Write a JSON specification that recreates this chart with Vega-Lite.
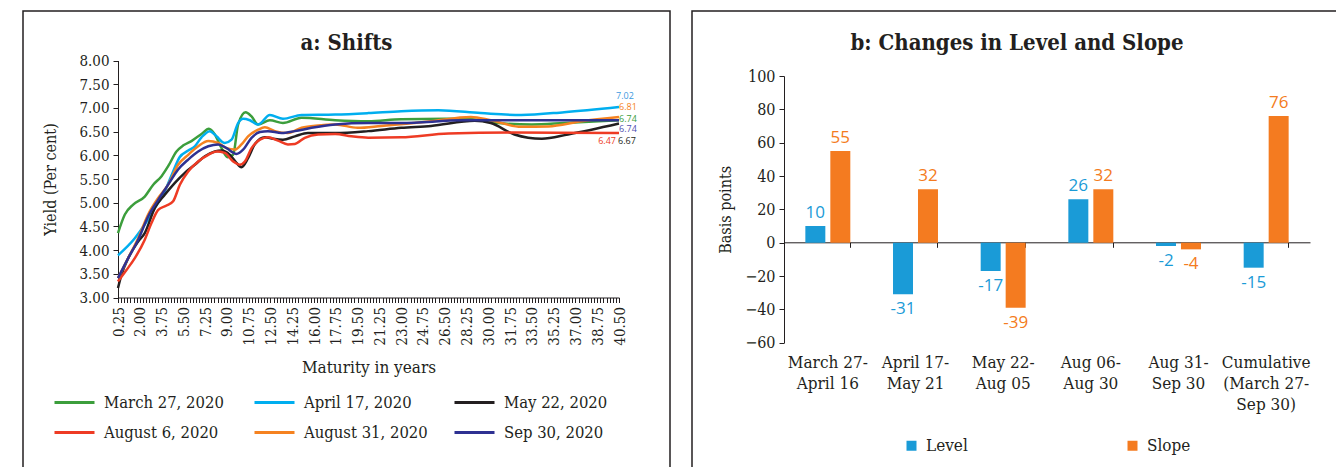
{
  "$schema": "https://vega.github.io/schema/vega-lite/v6.json",
  "padding": {"left": 22, "top": 10, "right": 0, "bottom": 0},
  "spacing": 20,
  "config": {
    "view": {"stroke": "#231f20", "strokeWidth": 1.5},
    "font": "DejaVu Serif Condensed",
    "axis": {"labelColor": "#231f20", "titleColor": "#231f20", "domainColor": "#231f20", "tickColor": "#231f20", "grid": false, "titleFontWeight": "normal", "labelFont": "DejaVu Serif Condensed", "titleFont": "DejaVu Serif Condensed"},
    "legend": {"labelFont": "DejaVu Serif Condensed", "labelColor": "#231f20"},
    "title": {"font": "DejaVu Serif Condensed", "fontWeight": "bold", "color": "#231f20", "fontSize": 22}
  },
  "resolve": {"scale": {"color": "independent"}, "legend": {"color": "independent"}},
  "datasets": {
    "curves": [
      {"s": "March 27, 2020", "m": 0.25, "y": 4.36}, {"s": "March 27, 2020", "m": 0.8, "y": 4.75}, {"s": "March 27, 2020", "m": 1.47, "y": 4.96}, {"s": "March 27, 2020", "m": 2.4, "y": 5.13}, {"s": "March 27, 2020", "m": 3.08, "y": 5.38}, {"s": "March 27, 2020", "m": 3.75, "y": 5.56}, {"s": "March 27, 2020", "m": 4.28, "y": 5.77}, {"s": "March 27, 2020", "m": 4.95, "y": 6.08}, {"s": "March 27, 2020", "m": 5.5, "y": 6.21}, {"s": "March 27, 2020", "m": 6.15, "y": 6.3}, {"s": "March 27, 2020", "m": 6.96, "y": 6.45}, {"s": "March 27, 2020", "m": 7.55, "y": 6.56}, {"s": "March 27, 2020", "m": 8.03, "y": 6.44}, {"s": "March 27, 2020", "m": 8.57, "y": 6.15}, {"s": "March 27, 2020", "m": 9.05, "y": 5.96}, {"s": "March 27, 2020", "m": 9.5, "y": 6.01}, {"s": "March 27, 2020", "m": 9.9, "y": 6.65}, {"s": "March 27, 2020", "m": 10.5, "y": 6.91}, {"s": "March 27, 2020", "m": 10.98, "y": 6.82}, {"s": "March 27, 2020", "m": 11.5, "y": 6.65}, {"s": "March 27, 2020", "m": 12.45, "y": 6.74}, {"s": "March 27, 2020", "m": 13.5, "y": 6.68}, {"s": "March 27, 2020", "m": 15, "y": 6.79}, {"s": "March 27, 2020", "m": 17.7, "y": 6.74}, {"s": "March 27, 2020", "m": 20.35, "y": 6.72}, {"s": "March 27, 2020", "m": 23, "y": 6.76}, {"s": "March 27, 2020", "m": 28.1, "y": 6.77}, {"s": "March 27, 2020", "m": 30.8, "y": 6.68}, {"s": "March 27, 2020", "m": 33.5, "y": 6.65}, {"s": "March 27, 2020", "m": 36.1, "y": 6.68}, {"s": "March 27, 2020", "m": 40.5, "y": 6.74},
      {"s": "April 17, 2020", "m": 0.25, "y": 3.89}, {"s": "April 17, 2020", "m": 1.6, "y": 4.25}, {"s": "April 17, 2020", "m": 2.4, "y": 4.54}, {"s": "April 17, 2020", "m": 3.21, "y": 4.89}, {"s": "April 17, 2020", "m": 4.01, "y": 5.24}, {"s": "April 17, 2020", "m": 4.68, "y": 5.66}, {"s": "April 17, 2020", "m": 5.2, "y": 5.96}, {"s": "April 17, 2020", "m": 5.89, "y": 6.1}, {"s": "April 17, 2020", "m": 6.42, "y": 6.19}, {"s": "April 17, 2020", "m": 6.96, "y": 6.38}, {"s": "April 17, 2020", "m": 7.63, "y": 6.51}, {"s": "April 17, 2020", "m": 8.16, "y": 6.4}, {"s": "April 17, 2020", "m": 8.83, "y": 6.26}, {"s": "April 17, 2020", "m": 9.37, "y": 6.33}, {"s": "April 17, 2020", "m": 9.9, "y": 6.68}, {"s": "April 17, 2020", "m": 10.3, "y": 6.77}, {"s": "April 17, 2020", "m": 10.84, "y": 6.74}, {"s": "April 17, 2020", "m": 11.5, "y": 6.65}, {"s": "April 17, 2020", "m": 12.45, "y": 6.85}, {"s": "April 17, 2020", "m": 13.5, "y": 6.77}, {"s": "April 17, 2020", "m": 15, "y": 6.85}, {"s": "April 17, 2020", "m": 17.7, "y": 6.86}, {"s": "April 17, 2020", "m": 20.35, "y": 6.89}, {"s": "April 17, 2020", "m": 23, "y": 6.93}, {"s": "April 17, 2020", "m": 26, "y": 6.95}, {"s": "April 17, 2020", "m": 29.4, "y": 6.89}, {"s": "April 17, 2020", "m": 32.65, "y": 6.85}, {"s": "April 17, 2020", "m": 36.1, "y": 6.91}, {"s": "April 17, 2020", "m": 40.5, "y": 7.02},
      {"s": "May 22, 2020", "m": 0.25, "y": 3.2}, {"s": "May 22, 2020", "m": 0.53, "y": 3.48}, {"s": "May 22, 2020", "m": 1.07, "y": 3.83}, {"s": "May 22, 2020", "m": 1.87, "y": 4.18}, {"s": "May 22, 2020", "m": 2.4, "y": 4.36}, {"s": "May 22, 2020", "m": 3.21, "y": 4.89}, {"s": "May 22, 2020", "m": 4.01, "y": 5.17}, {"s": "May 22, 2020", "m": 4.82, "y": 5.42}, {"s": "May 22, 2020", "m": 5.62, "y": 5.63}, {"s": "May 22, 2020", "m": 6.42, "y": 5.8}, {"s": "May 22, 2020", "m": 7.23, "y": 5.98}, {"s": "May 22, 2020", "m": 8.03, "y": 6.08}, {"s": "May 22, 2020", "m": 8.57, "y": 6.1}, {"s": "May 22, 2020", "m": 9.24, "y": 6.01}, {"s": "May 22, 2020", "m": 9.77, "y": 5.84}, {"s": "May 22, 2020", "m": 10.17, "y": 5.75}, {"s": "May 22, 2020", "m": 10.7, "y": 5.94}, {"s": "May 22, 2020", "m": 11.24, "y": 6.23}, {"s": "May 22, 2020", "m": 12.05, "y": 6.38}, {"s": "May 22, 2020", "m": 12.7, "y": 6.35}, {"s": "May 22, 2020", "m": 13.5, "y": 6.33}, {"s": "May 22, 2020", "m": 14.46, "y": 6.4}, {"s": "May 22, 2020", "m": 15.5, "y": 6.47}, {"s": "May 22, 2020", "m": 17.7, "y": 6.47}, {"s": "May 22, 2020", "m": 20.35, "y": 6.51}, {"s": "May 22, 2020", "m": 23, "y": 6.58}, {"s": "May 22, 2020", "m": 25.4, "y": 6.62}, {"s": "May 22, 2020", "m": 28.9, "y": 6.73}, {"s": "May 22, 2020", "m": 30.2, "y": 6.68}, {"s": "May 22, 2020", "m": 32.1, "y": 6.44}, {"s": "May 22, 2020", "m": 34.3, "y": 6.35}, {"s": "May 22, 2020", "m": 36.4, "y": 6.44}, {"s": "May 22, 2020", "m": 40.5, "y": 6.67},
      {"s": "August 6, 2020", "m": 0.25, "y": 3.34}, {"s": "August 6, 2020", "m": 0.93, "y": 3.58}, {"s": "August 6, 2020", "m": 1.6, "y": 3.83}, {"s": "August 6, 2020", "m": 2.4, "y": 4.22}, {"s": "August 6, 2020", "m": 2.94, "y": 4.57}, {"s": "August 6, 2020", "m": 3.48, "y": 4.85}, {"s": "August 6, 2020", "m": 4.15, "y": 4.94}, {"s": "August 6, 2020", "m": 4.68, "y": 5.03}, {"s": "August 6, 2020", "m": 5.22, "y": 5.38}, {"s": "August 6, 2020", "m": 5.89, "y": 5.66}, {"s": "August 6, 2020", "m": 6.69, "y": 5.87}, {"s": "August 6, 2020", "m": 7.5, "y": 6.01}, {"s": "August 6, 2020", "m": 8.16, "y": 6.08}, {"s": "August 6, 2020", "m": 8.83, "y": 6.05}, {"s": "August 6, 2020", "m": 9.5, "y": 5.87}, {"s": "August 6, 2020", "m": 10.04, "y": 5.8}, {"s": "August 6, 2020", "m": 10.44, "y": 5.87}, {"s": "August 6, 2020", "m": 10.98, "y": 6.15}, {"s": "August 6, 2020", "m": 11.65, "y": 6.33}, {"s": "August 6, 2020", "m": 12.3, "y": 6.38}, {"s": "August 6, 2020", "m": 13.1, "y": 6.31}, {"s": "August 6, 2020", "m": 13.9, "y": 6.23}, {"s": "August 6, 2020", "m": 14.46, "y": 6.24}, {"s": "August 6, 2020", "m": 15.26, "y": 6.37}, {"s": "August 6, 2020", "m": 16.33, "y": 6.44}, {"s": "August 6, 2020", "m": 17.7, "y": 6.45}, {"s": "August 6, 2020", "m": 19, "y": 6.4}, {"s": "August 6, 2020", "m": 20.35, "y": 6.37}, {"s": "August 6, 2020", "m": 23, "y": 6.38}, {"s": "August 6, 2020", "m": 26.8, "y": 6.46}, {"s": "August 6, 2020", "m": 32.1, "y": 6.48}, {"s": "August 6, 2020", "m": 40.5, "y": 6.47},
      {"s": "August 31, 2020", "m": 0.25, "y": 3.41}, {"s": "August 31, 2020", "m": 1.07, "y": 3.83}, {"s": "August 31, 2020", "m": 1.87, "y": 4.25}, {"s": "August 31, 2020", "m": 2.67, "y": 4.75}, {"s": "August 31, 2020", "m": 3.48, "y": 5.1}, {"s": "August 31, 2020", "m": 4.28, "y": 5.38}, {"s": "August 31, 2020", "m": 5.08, "y": 5.8}, {"s": "August 31, 2020", "m": 5.89, "y": 6.01}, {"s": "August 31, 2020", "m": 6.69, "y": 6.19}, {"s": "August 31, 2020", "m": 7.5, "y": 6.3}, {"s": "August 31, 2020", "m": 8.3, "y": 6.26}, {"s": "August 31, 2020", "m": 8.97, "y": 6.15}, {"s": "August 31, 2020", "m": 9.64, "y": 6.12}, {"s": "August 31, 2020", "m": 10.17, "y": 6.23}, {"s": "August 31, 2020", "m": 10.7, "y": 6.4}, {"s": "August 31, 2020", "m": 11.5, "y": 6.54}, {"s": "August 31, 2020", "m": 12.05, "y": 6.59}, {"s": "August 31, 2020", "m": 12.85, "y": 6.51}, {"s": "August 31, 2020", "m": 13.9, "y": 6.47}, {"s": "August 31, 2020", "m": 15, "y": 6.58}, {"s": "August 31, 2020", "m": 16.33, "y": 6.63}, {"s": "August 31, 2020", "m": 17.7, "y": 6.65}, {"s": "August 31, 2020", "m": 19.5, "y": 6.58}, {"s": "August 31, 2020", "m": 21.4, "y": 6.62}, {"s": "August 31, 2020", "m": 25.4, "y": 6.72}, {"s": "August 31, 2020", "m": 28.6, "y": 6.81}, {"s": "August 31, 2020", "m": 30.2, "y": 6.74}, {"s": "August 31, 2020", "m": 32.65, "y": 6.6}, {"s": "August 31, 2020", "m": 34.8, "y": 6.61}, {"s": "August 31, 2020", "m": 37.5, "y": 6.72}, {"s": "August 31, 2020", "m": 40.5, "y": 6.81},
      {"s": "Sep 30, 2020", "m": 0.25, "y": 3.41}, {"s": "Sep 30, 2020", "m": 1.07, "y": 3.83}, {"s": "Sep 30, 2020", "m": 1.87, "y": 4.22}, {"s": "Sep 30, 2020", "m": 2.67, "y": 4.71}, {"s": "Sep 30, 2020", "m": 3.48, "y": 5.06}, {"s": "Sep 30, 2020", "m": 4.28, "y": 5.38}, {"s": "Sep 30, 2020", "m": 5.08, "y": 5.7}, {"s": "Sep 30, 2020", "m": 5.89, "y": 5.91}, {"s": "Sep 30, 2020", "m": 6.69, "y": 6.08}, {"s": "Sep 30, 2020", "m": 7.5, "y": 6.19}, {"s": "Sep 30, 2020", "m": 8.3, "y": 6.23}, {"s": "Sep 30, 2020", "m": 8.97, "y": 6.15}, {"s": "Sep 30, 2020", "m": 9.77, "y": 6.03}, {"s": "Sep 30, 2020", "m": 10.3, "y": 6.12}, {"s": "Sep 30, 2020", "m": 10.98, "y": 6.37}, {"s": "Sep 30, 2020", "m": 11.65, "y": 6.49}, {"s": "Sep 30, 2020", "m": 12.3, "y": 6.51}, {"s": "Sep 30, 2020", "m": 13.4, "y": 6.47}, {"s": "Sep 30, 2020", "m": 14.46, "y": 6.51}, {"s": "Sep 30, 2020", "m": 15.8, "y": 6.58}, {"s": "Sep 30, 2020", "m": 17.7, "y": 6.65}, {"s": "Sep 30, 2020", "m": 20.35, "y": 6.68}, {"s": "Sep 30, 2020", "m": 23, "y": 6.68}, {"s": "Sep 30, 2020", "m": 28, "y": 6.74}, {"s": "Sep 30, 2020", "m": 40.5, "y": 6.74}
    ],
    "ends": [
      {"s": "March 27, 2020", "m": 40.5, "y": 6.74},
      {"s": "April 17, 2020", "m": 40.5, "y": 7.02},
      {"s": "May 22, 2020", "m": 40.5, "y": 6.67},
      {"s": "August 6, 2020", "m": 40.5, "y": 6.47},
      {"s": "August 31, 2020", "m": 40.5, "y": 6.81},
      {"s": "Sep 30, 2020", "m": 40.5, "y": 6.74}
    ],
    "bars": [
      {"period": "March 27-April 16", "measure": "Level", "value": 10},
      {"period": "March 27-April 16", "measure": "Slope", "value": 55},
      {"period": "April 17-May 21", "measure": "Level", "value": -31},
      {"period": "April 17-May 21", "measure": "Slope", "value": 32},
      {"period": "May 22-Aug 05", "measure": "Level", "value": -17},
      {"period": "May 22-Aug 05", "measure": "Slope", "value": -39},
      {"period": "Aug 06-Aug 30", "measure": "Level", "value": 26},
      {"period": "Aug 06-Aug 30", "measure": "Slope", "value": 32},
      {"period": "Aug 31-Sep 30", "measure": "Level", "value": -2},
      {"period": "Aug 31-Sep 30", "measure": "Slope", "value": -4},
      {"period": "Cumulative (March 27-Sep 30)", "measure": "Level", "value": -15},
      {"period": "Cumulative (March 27-Sep 30)", "measure": "Slope", "value": 76}
    ]
  },
  "hconcat": [
    {
      "width": 647,
      "height": 460,
      "title": {"text": "a: Shifts", "anchor": "middle", "frame": "group", "baseline": "top", "offset": -44},
      "layer": [
        {
          "data": {"name": "curves"},
          "mark": {"type": "line", "interpolate": "monotone", "strokeWidth": 2.5},
          "encoding": {
            "x": {
              "field": "m", "type": "quantitative",
              "scale": {"domain": [0.25, 40.5], "range": [95, 596], "nice": false, "zero": false},
              "axis": {
                "orient": "bottom", "offset": -173.5, "tickCount": 400,
                "values": [0.25,0.5,0.75,1,1.25,1.5,1.75,2,2.25,2.5,2.75,3,3.25,3.5,3.75,4,4.25,4.5,4.75,5,5.25,5.5,5.75,6,6.25,6.5,6.75,7,7.25,7.5,7.75,8,8.25,8.5,8.75,9,9.25,9.5,9.75,10,10.25,10.5,10.75,11,11.25,11.5,11.75,12,12.25,12.5,12.75,13,13.25,13.5,13.75,14,14.25,14.5,14.75,15,15.25,15.5,15.75,16,16.25,16.5,16.75,17,17.25,17.5,17.75,18,18.25,18.5,18.75,19,19.25,19.5,19.75,20,20.25,20.5,20.75,21,21.25,21.5,21.75,22,22.25,22.5,22.75,23,23.25,23.5,23.75,24,24.25,24.5,24.75,25,25.25,25.5,25.75,26,26.25,26.5,26.75,27,27.25,27.5,27.75,28,28.25,28.5,28.75,29,29.25,29.5,29.75,30,30.25,30.5,30.75,31,31.25,31.5,31.75,32,32.25,32.5,32.75,33,33.25,33.5,33.75,34,34.25,34.5,34.75,35,35.25,35.5,35.75,36,36.25,36.5,36.75,37,37.25,37.5,37.75,38,38.25,38.5,38.75,39,39.25,39.5,39.75,40,40.25,40.5],
                "labelExpr": "(round((datum.value - 0.25) * 4) % 7 == 0) ? format(datum.value, '.2f') : ''",
                "labelAngle": 270, "labelFontSize": 15, "labelOverlap": false, "labelBound": false, "labelFlush": false,
                "labelPadding": 4, "tickSize": 5,
                "title": "Maturity in years", "titleFontSize": 17, "titlePadding": 14
              }
            },
            "y": {
              "field": "y", "type": "quantitative",
              "scale": {"domain": [3, 8], "range": [286.5, 49.5], "nice": false, "zero": false},
              "axis": {
                "orient": "left", "offset": -95, "tickCount": 20,
                "values": [3, 3.5, 4, 4.5, 5, 5.5, 6, 6.5, 7, 7.5, 8], "format": ".2f",
                "labelFontSize": 15, "tickSize": 5, "labelPadding": 4,
                "title": "Yield (Per cent)", "titleFontSize": 16, "titlePadding": 20
              }
            },
            "color": {
              "field": "s", "type": "nominal",
              "scale": {
                "domain": ["March 27, 2020", "April 17, 2020", "May 22, 2020", "August 6, 2020", "August 31, 2020", "Sep 30, 2020"],
                "range": ["#3c9e3c", "#00aeef", "#231f20", "#ee3b24", "#f58220", "#2e3192"]
              },
              "legend": {
                "orient": "none", "legendX": 30, "legendY": 370, "direction": "horizontal", "columns": 3,
                "title": null, "symbolType": "stroke", "symbolSize": 1600, "symbolStrokeWidth": 3,
                "labelFontSize": 16.5, "labelOffset": 8, "gridAlign": "all", "columnPadding": 20, "rowPadding": -1, "padding": 0, "labelLimit": 300
              }
            }
          }
        },
        {
          "data": {"name": "ends"},
          "transform": [{"filter": "datum.s == 'April 17, 2020'"}],
          "mark": {"type": "text", "align": "left", "dx": -3, "dy": -11, "font": "Open Sans", "fontSize": 9, "color": "#3d9ae0"},
          "encoding": {"x": {"field": "m", "type": "quantitative"}, "y": {"field": "y", "type": "quantitative"}, "text": {"field": "y", "format": ".2f"}}
        },
        {
          "data": {"name": "ends"},
          "transform": [{"filter": "datum.s == 'August 31, 2020'"}],
          "mark": {"type": "text", "align": "left", "dx": 0, "dy": -10, "font": "Open Sans", "fontSize": 9, "color": "#f58220"},
          "encoding": {"x": {"field": "m", "type": "quantitative"}, "y": {"field": "y", "type": "quantitative"}, "text": {"field": "y", "format": ".2f"}}
        },
        {
          "data": {"name": "ends"},
          "transform": [{"filter": "datum.s == 'March 27, 2020'"}],
          "mark": {"type": "text", "align": "left", "dx": 0, "dy": -1.5, "font": "Open Sans", "fontSize": 9, "color": "#3c9e3c"},
          "encoding": {"x": {"field": "m", "type": "quantitative"}, "y": {"field": "y", "type": "quantitative"}, "text": {"field": "y", "format": ".2f"}}
        },
        {
          "data": {"name": "ends"},
          "transform": [{"filter": "datum.s == 'Sep 30, 2020'"}],
          "mark": {"type": "text", "align": "left", "dx": 0, "dy": 9, "font": "Open Sans", "fontSize": 9, "color": "#4f4fb0"},
          "encoding": {"x": {"field": "m", "type": "quantitative"}, "y": {"field": "y", "type": "quantitative"}, "text": {"field": "y", "format": ".2f"}}
        },
        {
          "data": {"name": "ends"},
          "transform": [{"filter": "datum.s == 'May 22, 2020'"}],
          "mark": {"type": "text", "align": "left", "dx": -1, "dy": 17, "font": "Open Sans", "fontSize": 9, "color": "#231f20"},
          "encoding": {"x": {"field": "m", "type": "quantitative"}, "y": {"field": "y", "type": "quantitative"}, "text": {"field": "y", "format": ".2f"}}
        },
        {
          "data": {"name": "ends"},
          "transform": [{"filter": "datum.s == 'August 6, 2020'"}],
          "mark": {"type": "text", "align": "right", "dx": -3, "dy": 7.5, "font": "Open Sans", "fontSize": 9, "color": "#ee3b24"},
          "encoding": {"x": {"field": "m", "type": "quantitative"}, "y": {"field": "y", "type": "quantitative"}, "text": {"field": "y", "format": ".2f"}}
        }
      ]
    },
    {
      "width": 650,
      "height": 460,
      "title": {"text": "b: Changes in Level and Slope", "anchor": "middle", "frame": "group", "baseline": "top", "offset": -44},
      "data": {"name": "bars"},
      "layer": [
        {
          "mark": {"type": "bar"},
          "encoding": {
            "x": {
              "field": "period", "type": "nominal",
              "scale": {
                "domain": ["March 27-April 16", "April 17-May 21", "May 22-Aug 05", "Aug 06-Aug 30", "Aug 31-Sep 30", "Cumulative (March 27-Sep 30)"],
                "range": [92, 618], "paddingInner": 0.487, "paddingOuter": 0.2435
              },
              "axis": {
                "orient": "bottom", "offset": -128.3, "domain": false, "ticks": false, "labelAngle": 0,
                "labelFontSize": 17, "labelPadding": 12, "labelLineHeight": 21,
                "labelExpr": "datum.value == 'Cumulative (March 27-Sep 30)' ? ['Cumulative', '(March 27-', 'Sep 30)'] : [split(datum.value, '-')[0] + '-', split(datum.value, '-')[1]]",
                "title": null
              }
            },
            "xOffset": {"field": "measure", "type": "nominal", "scale": {"domain": ["Level", "Slope"], "paddingInner": 0.2, "paddingOuter": 0}},
            "y": {
              "field": "value", "type": "quantitative",
              "scale": {"domain": [-60, 100], "range": [331.7, 65], "nice": false, "zero": false},
              "axis": {
                "orient": "left", "offset": -92, "tickCount": 20, "values": [-60, -40, -20, 0, 20, 40, 60, 80, 100],
                "labelFontSize": 16, "tickSize": 5, "labelPadding": 4,
                "title": "Basis points", "titleFontSize": 16, "titlePadding": 11
              }
            },
            "color": {
              "field": "measure", "type": "nominal",
              "scale": {"domain": ["Level", "Slope"], "range": ["#1a9bd7", "#f47b20"]},
              "legend": {
                "orient": "none", "legendX": 211, "legendY": 426, "direction": "horizontal", "columns": 2,
                "title": null, "symbolType": "square", "symbolSize": 100, "symbolStrokeWidth": 0,
                "labelFontSize": 17, "labelOffset": 6, "gridAlign": "all", "columnPadding": 154, "padding": 0
              }
            }
          }
        },
        {
          "transform": [{"filter": "datum.value >= 0"}],
          "mark": {"type": "text", "baseline": "middle", "dy": -13, "font": "Open Sans", "fontSize": 17},
          "encoding": {
            "x": {
              "field": "period", "type": "nominal",
              "axis": {"orient": "bottom", "offset": -228.7, "labels": false, "ticks": true, "tickSize": 5, "bandPosition": 1, "domain": true, "title": null}
            },
            "xOffset": {"field": "measure", "type": "nominal"},
            "y": {"field": "value", "type": "quantitative"},
            "text": {"field": "value"},
            "color": {"field": "measure", "type": "nominal"}
          }
        },
        {
          "transform": [{"filter": "datum.value < 0"}],
          "mark": {"type": "text", "baseline": "middle", "dy": 15, "font": "Open Sans", "fontSize": 17},
          "encoding": {
            "x": {"field": "period", "type": "nominal", "axis": null},
            "xOffset": {"field": "measure", "type": "nominal"},
            "y": {"field": "value", "type": "quantitative"},
            "text": {"field": "value"},
            "color": {"field": "measure", "type": "nominal"}
          }
        }
      ],
      "resolve": {"axis": {"x": "independent"}}
    }
  ]
}
